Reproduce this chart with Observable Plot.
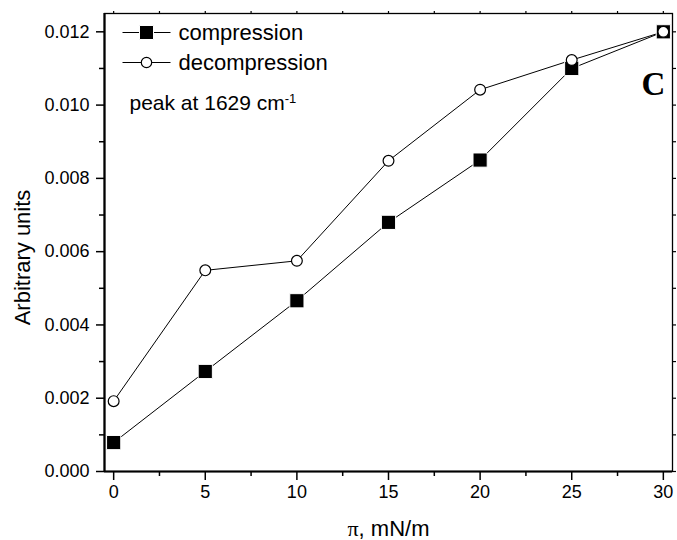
<!DOCTYPE html>
<html>
<head>
<meta charset="utf-8">
<script src="https://cdn.jsdelivr.net/npm/d3@7"></script>
<script src="https://cdn.jsdelivr.net/npm/@observablehq/plot@0.6"></script>
<style>
  html, body { margin: 0; padding: 0; background: white; }
</style>
</head>
<body>
<div id="chart"></div>
<script>
// ---- data ----
const pressure = [0, 5, 10, 15, 20, 25, 30];
const compression = [0.00079, 0.00273, 0.00466, 0.0068, 0.0085, 0.0110, 0.0120];
const decompression = [0.00192, 0.00549, 0.00575, 0.00848, 0.01042, 0.01123, 0.0120];
const seriesNames = ["compression", "decompression"];
const xTicks = [0, 5, 10, 15, 20, 25, 30];
const xMinorTicks = [2.5, 7.5, 12.5, 17.5, 22.5, 27.5];
const yTicks = [0, 0.002, 0.004, 0.006, 0.008, 0.010, 0.012];
const yMinorTicks = [0.001, 0.003, 0.005, 0.007, 0.009, 0.011];
const xDomain = [-0.5, 30.5];
const yDomain = [0, 0.0125];
const xTitle = "π, mN/m";
const yTitle = "Arbitrary units";
const noteText = "peak at 1629 cm";
const noteSup = "-1";
const panelLabel = "C";

const compRows = pressure.map((x, i) => ({x, y: compression[i]}));
const decompRows = pressure.map((x, i) => ({x, y: decompression[i]}));

const sans = "'Liberation Sans', Arial, Helvetica, sans-serif";
const serif = "'Liberation Serif', 'Times New Roman', serif";

const lineSymbol = { draw(ctx) { ctx.moveTo(-24, 0); ctx.lineTo(24, 0); } };
const legendDy = [19, 49];

const plot = Plot.plot({
  width: 677,
  height: 540,
  marginLeft: 104,
  marginRight: 5,
  marginTop: 13,
  marginBottom: 69,
  style: { fontFamily: sans, fontSize: "18px", background: "white", color: "black", overflow: "visible" },
  x: { domain: xDomain },
  y: { domain: yDomain },
  marks: [
    Plot.frame({ stroke: "black", strokeWidth: 1.3 }),
    Plot.ruleX([xDomain[0]], { stroke: "black", strokeWidth: 2.2 }),
    Plot.ruleY([yDomain[0]], { stroke: "black", strokeWidth: 2.2 }),
    Plot.axisX({ ticks: xTicks, tickSize: 9, tickPadding: 5, tickFormat: d => String(d), fontSize: 18, strokeWidth: 1.5, label: null }),
    Plot.axisX({ ticks: xMinorTicks, tickSize: 5, tickFormat: () => "", strokeWidth: 1.5, label: null }),
    Plot.axisX({ anchor: "top", ticks: xTicks.concat(xMinorTicks), tickSize: 3, tickFormat: () => "", strokeWidth: 1.2, label: null }),
    Plot.axisY({ ticks: yTicks, tickSize: 8, tickPadding: 7, tickFormat: d3.format(".3f"), fontSize: 18, strokeWidth: 1.5, label: null }),
    Plot.axisY({ ticks: yMinorTicks, tickSize: 5, tickFormat: () => "", strokeWidth: 1.5, label: null }),
    Plot.axisY({ anchor: "right", ticks: yTicks.concat(yMinorTicks), tickSize: 3, tickFormat: () => "", strokeWidth: 1.2, label: null }),
    Plot.line(decompRows, { x: "x", y: "y", stroke: "black", strokeWidth: 1 }),
    Plot.line(compRows, { x: "x", y: "y", stroke: "black", strokeWidth: 1 }),
    Plot.dot(compRows, { x: "x", y: "y", symbol: "square", r: 8, fill: "black", stroke: "white", strokeWidth: 1 }),
    Plot.dot(decompRows, { x: "x", y: "y", symbol: "circle", r: 5.4, fill: "white", stroke: "black", strokeWidth: 1.2 }),
    // legend
    ...seriesNames.map((name, i) => Plot.dot([name], { frameAnchor: "top-left", dx: 42, dy: legendDy[i], symbol: lineSymbol, r: 1, fill: "none", stroke: "black", strokeWidth: 1 })),
    Plot.dot([seriesNames[0]], { frameAnchor: "top-left", dx: 42, dy: legendDy[0], symbol: "square", r: 7.9, fill: "black", stroke: "white", strokeWidth: 1 }),
    Plot.dot([seriesNames[1]], { frameAnchor: "top-left", dx: 42, dy: legendDy[1], symbol: "circle", r: 5.2, fill: "white", stroke: "black", strokeWidth: 1.2 }),
    ...seriesNames.map((name, i) => Plot.text([name], { text: d => d, frameAnchor: "top-left", dx: 74, dy: legendDy[i], textAnchor: "start", lineAnchor: "middle", fontSize: 22 })),
    Plot.text([noteText], { text: d => d, frameAnchor: "top-left", dx: 25, dy: 90, textAnchor: "start", lineAnchor: "middle", fontSize: 21 }),
    Plot.text([panelLabel], { text: d => d, frameAnchor: "top-right", dx: -19, dy: 71, textAnchor: "middle", lineAnchor: "middle", fontSize: 33, fontWeight: "bold", fontFamily: serif }),
    // axis titles
    Plot.text([yTitle], { text: d => d, frameAnchor: "left", dx: -82, dy: 15, rotate: -90, textAnchor: "middle", lineAnchor: "middle", fontSize: 22 }),
    Plot.text([xTitle], { text: d => d, frameAnchor: "bottom", dy: 57, textAnchor: "middle", lineAnchor: "middle", fontSize: 22 })
  ]
});

const svg = d3.select(plot);
svg.selectAll("text").filter(function() { return this.textContent === noteText; })
  .append("tspan").attr("baseline-shift", "super").attr("font-size", 13).text(noteSup);
svg.selectAll("text").filter(function() { return this.textContent === xTitle; })
  .each(function() {
    const t = d3.select(this);
    t.text(null);
    t.append("tspan").attr("font-family", serif).text(xTitle.slice(0, 1));
    t.append("tspan").text(xTitle.slice(1));
  });

document.getElementById("chart").appendChild(plot);
</script>
</body>
</html>
